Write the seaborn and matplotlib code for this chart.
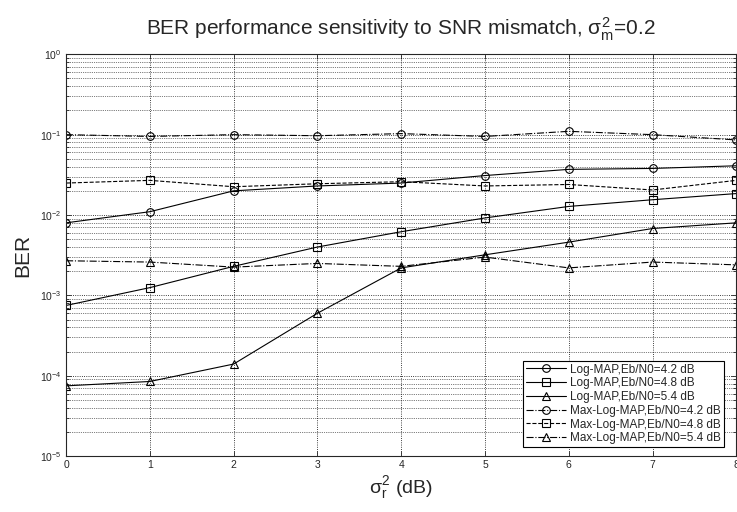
import matplotlib
matplotlib.use('Agg')
import matplotlib.pyplot as plt
import matplotlib.ticker as mticker
import seaborn as sns

# sigma_r^2 (dB)
snr_offset = [0, 1, 2, 3, 4, 5, 6, 7, 8]

# BER values
logmap_42 = [8.0e-3, 1.1e-2, 2.0e-2, 2.3e-2, 2.5e-2, 3.1e-2, 3.7e-2, 3.8e-2, 4.1e-2]
logmap_48 = [7.5e-4, 1.25e-3, 2.3e-3, 4.0e-3, 6.2e-3, 9.2e-3, 1.28e-2, 1.55e-2, 1.85e-2]
logmap_54 = [7.5e-5, 8.5e-5, 1.4e-4, 6.0e-4, 2.2e-3, 3.2e-3, 4.6e-3, 6.8e-3, 8.0e-3]
maxlog_42 = [0.100, 0.095, 0.100, 0.097, 0.103, 0.095, 0.110, 0.100, 0.086]
maxlog_48 = [2.5e-2, 2.7e-2, 2.25e-2, 2.45e-2, 2.6e-2, 2.3e-2, 2.4e-2, 2.05e-2, 2.7e-2]
maxlog_54 = [2.7e-3, 2.6e-3, 2.25e-3, 2.5e-3, 2.3e-3, 3.0e-3, 2.2e-3, 2.6e-3, 2.4e-3]

labels = ['Log-MAP,Eb/N0=4.2 dB', 'Log-MAP,Eb/N0=4.8 dB', 'Log-MAP,Eb/N0=5.4 dB',
          'Max-Log-MAP,Eb/N0=4.2 dB', 'Max-Log-MAP,Eb/N0=4.8 dB', 'Max-Log-MAP,Eb/N0=5.4 dB']
series = [logmap_42, logmap_48, logmap_54, maxlog_42, maxlog_48, maxlog_54]
markers = ['o', 's', '^', 'o', 's', '^']
styles = ['-', '-', '-', '-.', '--', '-.']

sns.set_style('ticks')
plt.rcParams['font.family'] = ['Liberation Sans', 'DejaVu Sans']
plt.rcParams['mathtext.fontset'] = 'custom'
plt.rcParams['mathtext.rm'] = 'Liberation Sans'
plt.rcParams['mathtext.it'] = 'Liberation Sans'

fig = plt.figure(figsize=(7.37, 5.12), dpi=100)
ax = fig.add_axes([0.0896, 0.109, 0.9095, 0.785])

for y, lab, m, ls in zip(series, labels, markers, styles):
    sns.lineplot(x=snr_offset, y=y, ax=ax, color='k', marker=m, linestyle=ls,
                 linewidth=0.8, markersize=5.5, markerfacecolor='none',
                 markeredgecolor='k', markeredgewidth=0.8, label=lab)

ax.set_yscale('log')
ax.set_xlim(0, 8)
ax.set_ylim(1e-5, 1)
ax.set_xticks(snr_offset)
ax.yaxis.set_major_locator(mticker.LogLocator(base=10, numticks=10))
ax.yaxis.set_minor_locator(mticker.LogLocator(base=10, subs=range(2, 10), numticks=20))
ax.yaxis.set_major_formatter(mticker.LogFormatterMathtext())
ax.yaxis.set_minor_formatter(mticker.NullFormatter())

ax.grid(True, which='major', linestyle=':', color='k', linewidth=0.6)
ax.grid(True, which='minor', axis='y', linestyle=':', color='k', linewidth=0.5)
ax.tick_params(which='both', direction='in', top=True, right=True, labelsize=7.5, width=0.6, pad=3)
for sp in ax.spines.values():
    sp.set_visible(True)
    sp.set_linewidth(0.8)

ax.set_title(r'BER performance sensitivity to SNR mismatch, $\sigma_m^2$=0.2', fontsize=15, pad=14)
ax.set_ylabel('BER', fontsize=15, labelpad=6)
ax.set_xlabel(r'$\sigma_r^2$ (dB)', fontsize=14, labelpad=3)

leg = ax.legend(loc='lower right', fontsize=8.5, frameon=True, fancybox=False,
                edgecolor='k', framealpha=1, handlelength=3.4, borderpad=0.25,
                labelspacing=0.15, handletextpad=0.4, borderaxespad=0,
                bbox_to_anchor=(0.982, 0.022))
leg.get_frame().set_linewidth(0.8)

fig.savefig('out.png', dpi=100)
